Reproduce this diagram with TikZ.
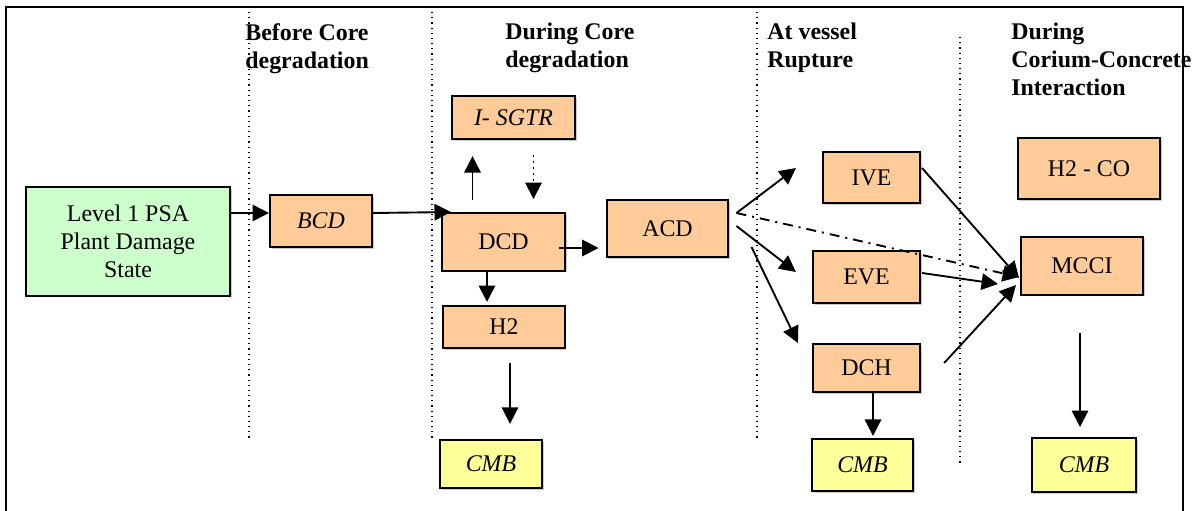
\documentclass[tikz,border=0pt]{standalone}
\usepackage{fontspec}
\setmainfont{Liberation Serif}
\usepackage{tikz}
\usetikzlibrary{positioning,arrows.meta,calc,shadows}
\definecolor{PDSorange}{HTML}{FFCC99}
\definecolor{PDSgreen}{HTML}{CCFFCC}
\definecolor{PDSyellow}{HTML}{FFFF99}
\definecolor{PDSshade}{HTML}{9A9A9A}
\tikzset{
  stagebox/.style={draw=black, line width=1.1pt, fill=PDSorange, align=center, inner sep=2pt, font=\fontsize{12}{14}\selectfont, drop shadow={shadow xshift=0.8pt, shadow yshift=-0.8pt, fill=PDSshade}},
  psabox/.style={stagebox, fill=PDSgreen},
  cmbbox/.style={stagebox, fill=PDSyellow, font=\fontsize{12}{14}\selectfont\itshape},
  phasehead/.style={anchor=north west, inner sep=0pt, align=left, font=\fontsize{12}{14}\selectfont\bfseries},
  phaseline/.style={dotted, line width=0.6pt},
  flowarr/.style={-{Triangle[length=2.9mm,width=2.9mm]}, line width=0.95pt},
  dashdotarr/.style={flowarr, dash pattern=on 5pt off 3pt on 1pt off 3pt}
}
\begin{document}
\begin{tikzpicture}[x=0.01765cm, y=-0.01765cm]
\useasboundingbox (0,0) rectangle (1198,510);
% frame and phase separators
\draw[line width=1.2pt] (6,512) -- (6,7) -- (1183,7) -- (1183,512);
\draw[phaseline] (249,12) -- (249,441);
\draw[phaseline] (432,12) -- (432,441);
\draw[phaseline] (757,12) -- (757,441);
\draw[phaseline] (960,37) -- (960,466);
% phase headers
\node[phasehead] (hbefore) at (245,23) {Before Core\\degradation};
\node[phasehead] (hduring) at (505,23) {During Core\\degradation};
\node[phasehead] (hvessel) at (767,23) {At vessel\\Rupture};
\node[phasehead] (hmcci) at (1011,23) {During\\Corium-Concrete\\Interaction};
% boxes
\node[psabox, minimum width=3.60cm, minimum height=1.92cm] (psa) at (128,241.5) {Level 1 PSA\\Plant Damage\\State};
\node[stagebox, minimum width=1.80cm, minimum height=0.92cm, font=\fontsize{12}{14}\selectfont\itshape] (bcd) at (321,221) {BCD};
\node[stagebox, minimum width=2.17cm, minimum height=0.76cm, font=\fontsize{12}{14}\selectfont\itshape] (sgtr) at (513.5,117.5) {I- SGTR};
\node[stagebox, minimum width=2.17cm, minimum height=1.02cm] (dcd) at (503.5,242) {DCD};
\node[stagebox, minimum width=2.15cm, minimum height=1.01cm] (acd) at (667.5,228.5) {ACD};
\node[stagebox, minimum width=2.15cm, minimum height=0.74cm] (h2) at (504,327) {H2};
\node[stagebox, minimum width=1.71cm, minimum height=0.90cm] (ive) at (871.5,177.5) {IVE};
\node[stagebox, minimum width=1.89cm, minimum height=0.92cm] (eve) at (866.5,277) {EVE};
\node[stagebox, minimum width=1.89cm, minimum height=0.85cm] (dch) at (866.5,368) {DCH};
\node[stagebox, minimum width=2.52cm, minimum height=1.08cm] (h2co) at (1089,168.5) {H2 - CO};
\node[stagebox, minimum width=2.15cm, minimum height=1.02cm] (mcci) at (1082,266) {MCCI};
\node[cmbbox, minimum width=1.80cm, minimum height=0.85cm] (cmba) at (491,464) {CMB};
\node[cmbbox, minimum width=1.78cm, minimum height=0.92cm] (cmbb) at (862.5,465) {CMB};
\node[cmbbox, minimum width=1.84cm, minimum height=0.95cm] (cmbc) at (1084,465) {CMB};
% connectors
\draw[flowarr] ($(psa.east)+(0,-28.5)$) -- ($(bcd.west)+(0,-8)$);
\draw[flowarr] ($(bcd.east)+(0,-8)$) -- ($(dcd.north west)+(10,0)$);
\draw[flowarr] ($(dcd.north)+(-31,-12)$) -- ($(sgtr.south)+(-41,16)$);
\draw[flowarr, dotted] ($(sgtr.south)+(20,15)$) -- ($(dcd.north)+(30,-13)$);
\draw[flowarr] ($(dcd.east)+(-7,6)$) -- ($(acd.west)+(-7,19.5)$);
\draw[flowarr] ($(dcd.south)+(-16.5,0)$) -- ($(h2.north)+(-17,-3)$);
\draw[flowarr] ($(h2.south)+(6,14)$) -- ($(cmba.north)+(19,-15)$);
\draw[flowarr] ($(acd.east)+(7,-15.5)$) -- ($(ive.west)+(-26,-9.5)$);
\draw[dashdotarr] ($(acd.east)+(7,-15.5)$) -- ($(mcci.west)+(-1,11)$);
\draw[flowarr] ($(acd.east)+(7,-2.5)$) -- ($(eve.west)+(-16,-5)$);
\draw[flowarr] ($(acd.east)+(22,18.5)$) -- ($(dch.west)+(-14,-25)$);
\draw[flowarr] ($(ive.east)+(1,-9.5)$) -- ($(mcci.west)+(-1,12)$);
\draw[flowarr] ($(eve.east)+(1,-4)$) -- ($(mcci.west)+(-22,18)$);
\draw[flowarr] ($(dch.east)+(23,-5)$) -- ($(mcci.west)+(-4,19)$);
\draw[flowarr] ($(dch.south)+(6.5,0)$) -- ($(cmbb.north)+(10.5,-2)$);
\draw[flowarr] ($(mcci.south)+(-2,37)$) -- ($(cmbc.north)+(-4,-10)$);
\end{tikzpicture}
\end{document}
